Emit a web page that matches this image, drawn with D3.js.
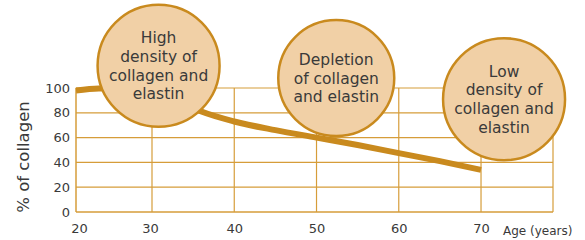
<!DOCTYPE html>
<html>
<head>
<meta charset="utf-8">
<script src="https://cdn.jsdelivr.net/npm/d3@7"></script>
<style>
    body { margin: 0; background: #fff; }
    svg text { font-family: "DejaVu Sans", Arial, sans-serif; fill: #3a3a3a; }
</style>
</head>
<body>
<svg id="chart" width="585" height="240"></svg>
<script>
// chart data
var ages = [20, 23, 27, 30, 33, 36, 40, 45, 50, 55, 60, 65, 70];
var collagen = [98, 99.5, 100, 97, 90, 81, 73, 66, 60, 54, 47.5, 41, 34];
var xTicks = [20, 30, 40, 50, 60, 70];
var yTicks = [0, 20, 40, 60, 80, 100];
var bubbleAges = [30.8, 52.4, 72.8];
var bubbleValues = [118, 108, 91];
var bubbleLines = [
    ["High", "density of", "collagen and", "elastin"],
    ["Depletion", "of collagen", "and elastin"],
    ["Low", "density of", "collagen and", "elastin"]
];

var gold = "#c98a1e";
var gridColor = "#d69d3a";
var bubbleFill = "#f1d0a6";
var fontFam = "DejaVu Sans, Arial, sans-serif";

var svg = d3.select("#chart");

// x is drawn a bit uneven in the original: first decade is narrower
var x = d3.scaleLinear()
    .domain([20, 30, 78.75])
    .range([76, 152, 553]);
var y = d3.scaleLinear()
    .domain([0, 100])
    .range([212, 88]);

//Grid
var grid = svg.append("g").attr("class", "grid");
yTicks.forEach(function(t){
    grid.append("line")
        .attr("x1", x(20)).attr("x2", x(78.75))
        .attr("y1", y(t)).attr("y2", y(t))
        .style("stroke", gridColor)
        .style("stroke-width", t === 0 ? 1.5 : 1.2);
});
xTicks.concat([78.75]).forEach(function(t){
    grid.append("line")
        .attr("x1", x(t)).attr("x2", x(t))
        .attr("y1", y(0)).attr("y2", y(100))
        .style("stroke", gridColor)
        .style("stroke-width", t === 20 ? 1.5 : 1.2);
});

//Axes (labels only)
var yAxis = d3.axisLeft(y).tickValues(yTicks).tickSize(0).tickPadding(6);
var xAxis = d3.axisBottom(x).tickValues(xTicks).tickSize(0).tickPadding(12);

svg.append("g")
    .attr("transform", "translate(" + x(20) + ",0)")
    .call(yAxis)
    .call(function(g){ g.select(".domain").remove(); })
    .selectAll("text")
    .style("font-size", "13px")
    .style("font-family", fontFam)
    .style("fill", "#3a3a3a");

svg.append("g")
    .attr("transform", "translate(0," + y(0) + ")")
    .call(xAxis)
    .call(function(g){ g.select(".domain").remove(); })
    .selectAll("text")
    .attr("dx", function(d){ return d === 20 ? 3 : (d === 30 ? -2 : 0); })
    .style("font-size", "13px")
    .style("font-family", fontFam)
    .style("fill", "#3a3a3a");

svg.append("text")
    .attr("x", 503)
    .attr("y", 235)
    .style("font-size", "12px")
    .text("Age (years)");

svg.append("text")
    .attr("transform", "translate(29,157) rotate(-90)")
    .attr("text-anchor", "middle")
    .style("font-size", "16.5px")
    .text("% of collagen");

//Curve
var line = d3.line()
    .x(function(d, i){ return x(ages[i]); })
    .y(function(d){ return y(d); })
    .curve(d3.curveMonotoneX);

svg.append("path")
    .attr("d", line(collagen))
    .style("fill", "none")
    .style("stroke", gold)
    .style("stroke-width", 6);

//Bubbles
var radii = [61, 58, 61];
bubbleAges.forEach(function(a, i){
    var cx = x(a), cy = y(bubbleValues[i]);
    var g = svg.append("g");
    g.append("circle")
        .attr("cx", cx).attr("cy", cy).attr("r", radii[i])
        .style("fill", bubbleFill)
        .style("stroke", gold)
        .style("stroke-width", 2.5);
    var n = bubbleLines[i].length;
    bubbleLines[i].forEach(function(s, j){
        g.append("text")
            .attr("x", cx)
            .attr("y", cy + (j - (n - 1) / 2) * 18.7 + 5.5)
            .attr("text-anchor", "middle")
            .style("font-size", "15.5px")
            .text(s);
    });
});
</script>
</body>
</html>
